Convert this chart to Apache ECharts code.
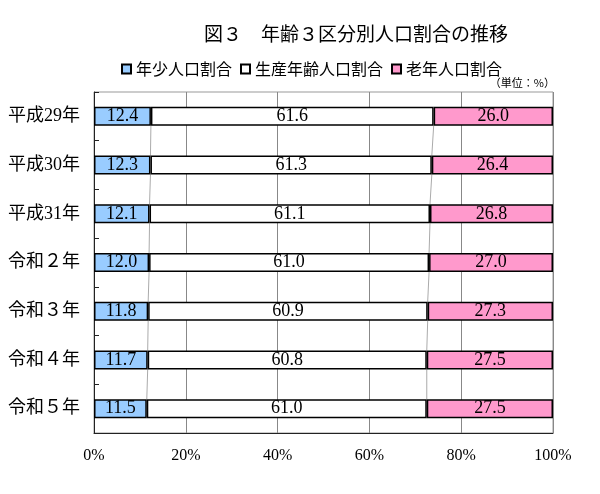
<!DOCTYPE html>
<html>
<head>
<meta charset="utf-8">
<script src="https://cdn.jsdelivr.net/npm/echarts@6/dist/echarts.min.js"></script>
<style>html,body{margin:0;padding:0;background:#fff}#c{width:600px;height:494px}</style>
</head>
<body>
<div id="c"></div>
<script>
const categories = ['平成29年','平成30年','平成31年','令和２年','令和３年','令和４年','令和５年'];
const young = [12.4, 12.3, 12.1, 12.0, 11.8, 11.7, 11.5];
const working = [61.6, 61.3, 61.1, 61.0, 60.9, 60.8, 61.0];
const elderly = [26.0, 26.4, 26.8, 27.0, 27.3, 27.5, 27.5];
const xTicks = [0, 20, 40, 60, 80, 100];
const seriesNames = ['年少人口割合','生産年齢人口割合','老年人口割合'];

const serif = "'Liberation Serif','Noto Sans CJK JP'";
const sans = "'Noto Sans CJK JP'";

const c1 = young.slice();
const c2 = young.map((v, i) => v + working[i]);
const connData = [];
for (let i = 0; i < categories.length - 1; i++) {
  connData.push([i, c1[i], c1[i + 1], c2[i], c2[i + 1]]);
}
const barRatio = 0.39;

const chart = echarts.init(document.getElementById('c'));
const labelStyle = {
  show: true, position: 'inside', color: '#000',
  fontFamily: serif, fontSize: 18,
  formatter: p => Number(p.value).toFixed(1)
};
chart.setOption({
  animation: false,
  title: {
    text: '図３　年齢３区分別人口割合の推移',
    left: 199, top: 19,
    textStyle: { fontFamily: sans, fontSize: 19, fontWeight: 'normal', color: '#000' }
  },
  legend: {
    data: seriesNames,
    left: 116, top: 56,
    icon: 'rect', itemWidth: 9, itemHeight: 9, itemGap: 8,
    textStyle: { fontFamily: sans, fontSize: 16, color: '#000' }
  },
  graphic: [{
    type: 'text', right: 45, top: 77,
    style: { text: '（単位：%）', fontFamily: sans, fontSize: 11, fill: '#000' }
  }],
  grid: {
    left: 94, right: 47, top: 92, bottom: 61,
    show: true, borderColor: '#999', borderWidth: 1, containLabel: false
  },
  xAxis: {
    type: 'value', min: xTicks[0], max: xTicks[xTicks.length - 1], interval: 20,
    axisLine: { show: true, lineStyle: { color: '#222', width: 1 } },
    axisTick: { show: false },
    splitLine: { show: true, lineStyle: { color: '#888', width: 1 } },
    axisLabel: { formatter: '{value}%', fontFamily: serif, fontSize: 16, color: '#000', margin: 15 }
  },
  yAxis: {
    type: 'category', data: categories, inverse: true,
    axisLine: { show: true, lineStyle: { color: '#222', width: 1 } },
    axisTick: { show: true, inside: true, length: 5, lineStyle: { color: '#222' } },
    axisLabel: { fontFamily: serif, fontSize: 18, color: '#000', margin: 14 }
  },
  series: [
    {
      name: seriesNames[0], type: 'bar', stack: 'total', barWidth: (barRatio * 100) + '%',
      data: young, z: 3,
      itemStyle: { color: '#99CCFF', borderColor: '#000', borderWidth: 1.5 },
      label: labelStyle
    },
    {
      name: seriesNames[1], type: 'bar', stack: 'total',
      data: working, z: 3,
      itemStyle: { color: '#FFFFFF', borderColor: '#000', borderWidth: 1.5 },
      label: labelStyle
    },
    {
      name: seriesNames[2], type: 'bar', stack: 'total',
      data: elderly, z: 3,
      itemStyle: { color: '#FF99CC', borderColor: '#000', borderWidth: 1.5 },
      label: labelStyle
    },
    {
      type: 'custom', name: 'seriesLines', z: 2, silent: true,
      data: connData,
      encode: { x: [1, 2, 3, 4], y: 0 },
      renderItem: function (params, api) {
        const i = api.value(0);
        const band = api.size([0, 1])[1];
        const half = band * barRatio / 2;
        const a1 = api.coord([api.value(1), i]);
        const b1 = api.coord([api.value(2), i + 1]);
        const a2 = api.coord([api.value(3), i]);
        const b2 = api.coord([api.value(4), i + 1]);
        const st = { stroke: '#aaa', lineWidth: 1 };
        return {
          type: 'group',
          children: [
            { type: 'line', shape: { x1: a1[0], y1: a1[1] + half, x2: b1[0], y2: b1[1] - half }, style: st },
            { type: 'line', shape: { x1: a2[0], y1: a2[1] + half, x2: b2[0], y2: b2[1] - half }, style: st }
          ]
        };
      }
    }
  ]
});
</script>
</body>
</html>
